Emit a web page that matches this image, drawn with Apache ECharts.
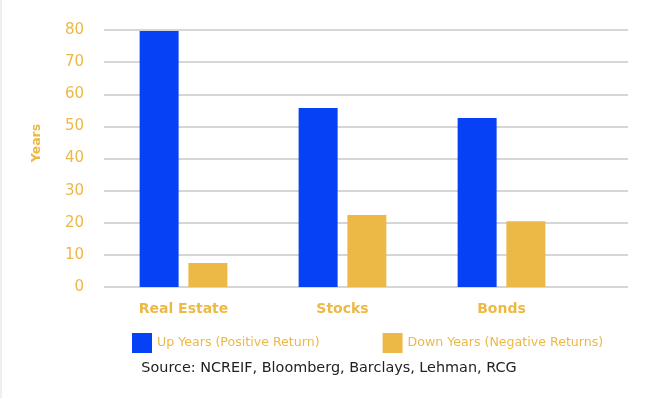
<!DOCTYPE html>
<html><head><meta charset="utf-8">
<script src="https://cdn.jsdelivr.net/npm/echarts@6/dist/echarts.min.js"></script>
<style>html,body{margin:0;padding:0;background:#fff}#c{width:656px;height:398px;border-left:2px solid #eee;box-sizing:border-box}</style>
</head><body><div id="c"></div>
<script>
const categories = ['Real Estate', 'Stocks', 'Bonds'];
const upYears = [79.7, 55.7, 52.6];
const downYears = [7.5, 22.4, 20.5];
const seriesNames = ['Up Years (Positive Return)', 'Down Years (Negative Returns)'];
const yTicks = [0, 10, 20, 30, 40, 50, 60, 70, 80];
const yAxisTitle = 'Years';
const sourceText = 'Source: NCREIF, Bloomberg, Barclays, Lehman, RCG';

const BLUE = '#0741F5', GOLD = '#EDB946', FONT = 'Verdana, "DejaVu Sans", sans-serif';
const chart = echarts.init(document.getElementById('c'));
chart.setOption({
  animation: false,
  textStyle: {fontFamily: FONT},
  grid: [
    {left: 102, top: 30, width: 477, height: 257, containLabel: false},
    {left: 102, top: 30, width: 524, height: 257, containLabel: false}
  ],
  legend: {
    data: seriesNames,
    left: 130, top: 333, itemWidth: 20, itemHeight: 20, itemGap: 63, padding: 0,
    textStyle: {color: GOLD, fontSize: 12.6, fontFamily: FONT},
    icon: 'rect'
  },
  title: {
    text: sourceText, left: 'center', top: 361,
    textStyle: {color: '#222', fontSize: 14.4, fontWeight: 'normal', fontFamily: FONT},
    padding: 0
  },
  graphic: [{
    type: 'text', x: 35, y: 143, rotation: Math.PI / 2,
    style: {text: yAxisTitle, fill: GOLD, font: 'bold 12.5px ' + FONT, align: 'center', verticalAlign: 'middle'}
  }],
  xAxis: [
    {type: 'category', gridIndex: 0, data: categories,
     axisLine: {show: false}, axisTick: {show: false},
     axisLabel: {color: GOLD, fontSize: 14, fontWeight: 'bold', margin: 15, fontFamily: FONT}},
    {type: 'category', gridIndex: 1, data: [], show: false}
  ],
  yAxis: [
    {type: 'value', gridIndex: 0, min: 0, max: 80, interval: 10, show: false},
    {type: 'value', gridIndex: 1, min: yTicks[0], max: yTicks[yTicks.length - 1], interval: 10,
     axisLine: {show: false}, axisTick: {show: false},
     axisLabel: {color: GOLD, fontSize: 15, margin: 20, align: 'right', fontFamily: FONT},
     splitLine: {lineStyle: {color: '#d6d6d6', width: 2}}}
  ],
  series: [
    {name: seriesNames[0], type: 'bar', xAxisIndex: 0, yAxisIndex: 0, data: upYears,
     barWidth: 39, barGap: '25%', itemStyle: {color: BLUE}, z: 3},
    {name: seriesNames[1], type: 'bar', xAxisIndex: 0, yAxisIndex: 0, data: downYears,
     barWidth: 39, barGap: '25%', itemStyle: {color: GOLD}, z: 3}
  ]
});
</script></body></html>
